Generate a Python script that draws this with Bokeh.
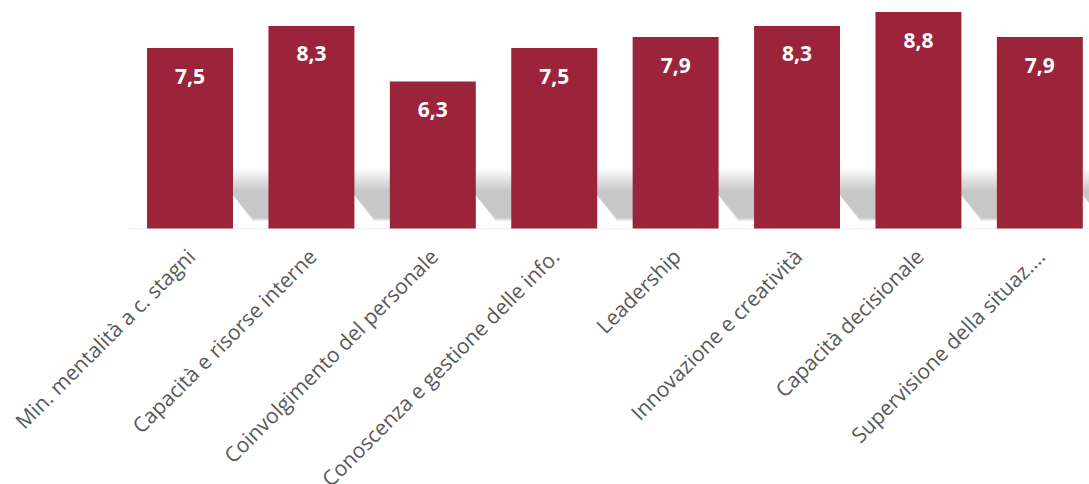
from bokeh.plotting import figure
from bokeh.models import ColumnDataSource, Range1d
from bokeh.core.properties import value
from bokeh.embed import file_html
from bokeh.resources import INLINE
import math

categories = ["Min. mentalità a c. stagni", "Capacità e risorse interne",
              "Coinvolgimento del personale", "Conoscenza e gestione delle info.",
              "Leadership", "Innovazione e creatività", "Capacità decisionale",
              "Supervisione della situaz...."]
values = [7.5, 8.3, 6.3, 7.5, 7.9, 8.3, 8.8, 7.9]
value_labels = ["7,5", "8,3", "6,3", "7,5", "7,9", "8,3", "8,8", "7,9"]

BAR = "#9B243B"
xs = list(range(len(categories)))
Y0 = 1.0

# frame covers the whole canvas; ranges chosen so the value axis spans 1..9
p = figure(width=1089, height=484, output_backend="svg", toolbar_location=None,
           x_range=Range1d(-1.561, 7.409), y_range=Range1d(-8.225, 9.216),
           min_border=0)
p.outline_line_color = None
p.background_fill_color = "white"
p.border_fill_color = "white"
p.grid.visible = False
p.axis.visible = False

# soft floor shadow behind bars
bw = 0.354
n = 14
for k in range(n):
    yt = 3.15 - k * 0.06
    yb = 1.25 + k * 0.01
    ym = 2.19
    pxs, pys = [], []
    for i in xs:
        pxs.append([i - 0.35, i + 0.72, i + 0.72 + 0.16, i + bw + 0.16, i + bw, i - 0.35])
        pys.append([yt, yt, yb, yb, ym, ym])
    p.patches(pxs, pys, fill_color="black", fill_alpha=0.016, line_color=None)

src = ColumnDataSource(dict(x=xs, top=values, lab=value_labels,
                            cat=categories, base=[Y0] * len(xs)))

# faint category axis line
p.segment(x0=[xs[0] - 0.5], y0=[Y0], x1=[xs[-1] + 0.5], y1=[Y0],
          line_color="#efefef", line_width=1)

p.vbar(x="x", top="top", bottom=Y0, width=0.708, source=src,
       fill_color=BAR, line_color=None)
p.text(x="x", y="top", text="lab", source=src, text_color="white",
       text_font=value("Open Sans"), text_font_style="bold",
       text_font_size="21px", text_align="center", text_baseline="middle",
       y_offset=28)

# rotated category labels
p.text(x="x", y="base", text="cat", source=src, angle=math.pi / 4,
       text_align="right", text_baseline="middle", x_offset=1, y_offset=24,
       text_font=value("Open Sans"), text_font_size="21px",
       text_color="#595959")

open("out.html", "w").write(file_html(p, INLINE))
